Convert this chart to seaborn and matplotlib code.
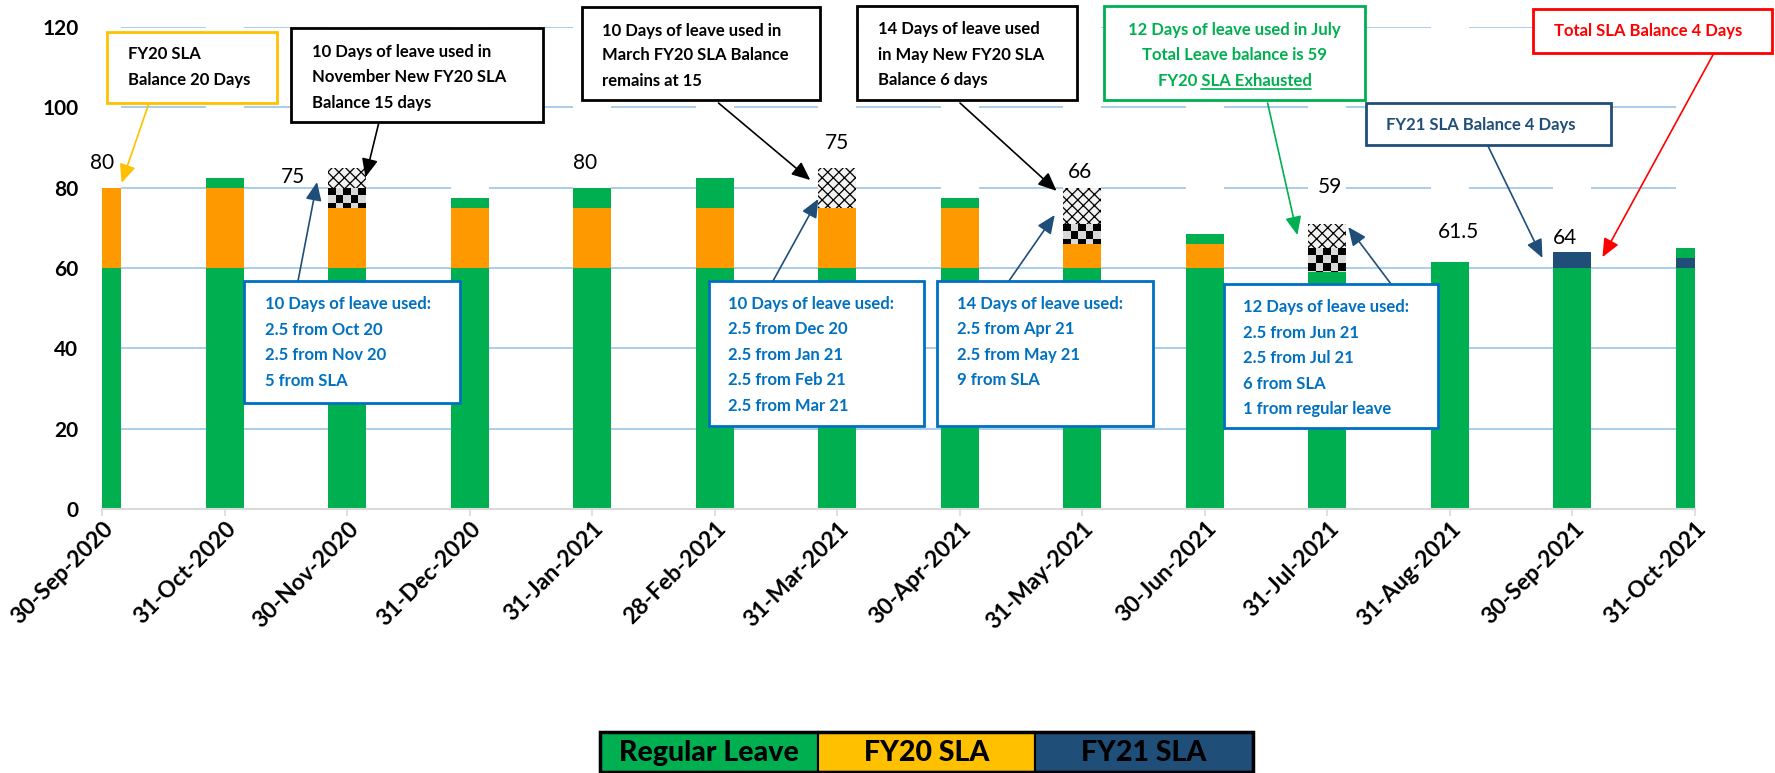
import numpy as np
import pandas as pd
import matplotlib
matplotlib.use("Agg")
import matplotlib.pyplot as plt
import matplotlib.transforms as mtransforms
import seaborn as sns
from matplotlib.patches import Rectangle
from matplotlib.lines import Line2D
from matplotlib.colors import ListedColormap

# ---------------- data ----------------
dates = ["30-Sep-2020", "31-Oct-2020", "30-Nov-2020", "31-Dec-2020", "31-Jan-2021",
         "28-Feb-2021", "31-Mar-2021", "30-Apr-2021", "31-May-2021", "30-Jun-2021",
         "31-Jul-2021", "31-Aug-2021", "30-Sep-2021", "31-Oct-2021"]
regular_base = [60, 60, 60, 60, 60, 60, 60, 60, 60, 60, 59, 61.5, 60, 60]
fy20_sla = [20, 20, 15, 15, 15, 15, 15, 15, 6, 6, 0, 0, 0, 0]
fy21_sla = [0, 0, 0, 0, 0, 0, 0, 0, 0, 0, 0, 0, 4, 2.5]
regular_top = [0, 2.5, 0, 2.5, 5, 7.5, 0, 2.5, 0, 2.5, 0, 0, 0, 2.5]
used_sla = [0, 0, 5, 0, 0, 0, 0, 0, 5, 0, 6, 0, 0, 0]
used_regular = [0, 0, 5, 0, 0, 0, 10, 0, 9, 0, 6, 0, 0, 0]
total_labels = ["80", "", "75", "", "80", "", "75", "", "66", "", "59", "61.5", "64", ""]
y_ticks = [0, 20, 40, 60, 80, 100, 120]
legend_labels = ["Regular Leave", "FY20 SLA", "FY21 SLA"]

# ---------------- style ----------------
W, H = 1775, 773
GREEN = "#00B050"
ORANGE = "#FF9900"
LEG_YELLOW = "#FFC000"
NAVY = "#1F4E79"
BLUE = "#0070C0"
CHECK_BG = "#D9D9D9"
X_BG = "#F2F2F2"
label_dx = [0.0, 0, -0.44, 0, -0.06, 0, 0.0, 0, -0.02, 0, 0.02, 0.07, -0.06, 0]
label_y = [86.2, 0, 82.7, 0, 86.2, 0, 91.1, 0, 83.9, 0, 80.2, 69.0, 67.4, 0]

sns.set_theme(style="white")
plt.rcParams["font.family"] = ["Lato", "DejaVu Sans"]
plt.rcParams["hatch.color"] = "black"
plt.rcParams["hatch.linewidth"] = 0.9


def fx(x):
    return x / W


def fy(y):
    return 1 - y / H


fig = plt.figure(figsize=(W / 100, H / 100), dpi=100)
ax_l, ax_r, ax_t, ax_b = 102, 1695, 27, 509
ax = fig.add_axes([fx(ax_l), fy(ax_b), (ax_r - ax_l) / W, (ax_b - ax_t) / H])

ymax = y_ticks[-1]
totals = (np.array(regular_base) + np.array(fy20_sla) + np.array(fy21_sla)
          + np.array(regular_top) + np.array(used_sla) + np.array(used_regular))
df = pd.DataFrame({
    "date": dates,
    "regular_base": regular_base,
    "fy20": fy20_sla,
    "fy21": fy21_sla,
    "regular_top": regular_top,
    "used_sla": used_sla,
    "used_regular": used_regular,
    "filler": ymax - totals,
})

segments = [
    ("regular_base", GREEN, None),
    ("fy20", ORANGE, None),
    ("fy21", NAVY, None),
    ("regular_top", GREEN, None),
    ("used_sla", CHECK_BG, "checker"),
    ("used_regular", X_BG, "xxx"),
    ("filler", "white", None),
]

bottom = np.zeros(len(dates))
px_per_x = (ax_r - ax_l) / (len(dates) - 1)
px_per_y = (ax_b - ax_t) / ymax
for col, color, pattern in segments:
    kw = dict(linewidth=0)
    if pattern is not None and pattern != "checker":
        kw.update(hatch=pattern, edgecolor="black")
    sns.barplot(data=df, x="date", y=col, order=dates, color=color, saturation=1,
                width=0.31, bottom=bottom.copy(), errorbar=None, ax=ax, **kw)
    if pattern == "checker":
        cont = ax.containers[-1]
        for p in cont.patches:
            h = p.get_height()
            if h <= 0:
                continue
            x0, w = p.get_x(), p.get_width()
            ytop = p.get_y() + h
            ncols = 5
            cell_h = (w * px_per_x / ncols) / px_per_y
            nrows = int(np.ceil(h / cell_h))
            arr = np.add.outer(np.arange(nrows), np.arange(ncols)) % 2
            im = ax.imshow(arr, cmap=ListedColormap(["black", CHECK_BG]),
                           extent=[x0, x0 + w, ytop - nrows * cell_h, ytop],
                           origin="upper", interpolation="nearest", aspect="auto",
                           zorder=1.2)
            im.set_clip_path(p)
    bottom += df[col].values

ax.set_xlim(0, len(dates) - 1)
ax.set_ylim(0, ymax)
ax.set_xlabel("")
ax.set_ylabel("")
ax.set_axisbelow(True)
ax.yaxis.grid(True, color="#A9CDEB", linewidth=1.4)
ax.xaxis.grid(False)
for s in ["left", "top", "right"]:
    ax.spines[s].set_visible(False)
ax.spines["bottom"].set_color("#D9D9D9")
ax.spines["bottom"].set_linewidth(1.5)

ax.set_yticks(y_ticks)
ax.set_yticklabels([str(v) for v in y_ticks], fontsize=15, fontweight="bold", color="black")
ax.tick_params(axis="y", length=0, pad=17)
ax.set_xticks(range(len(dates)))
ax.set_xticklabels(dates, rotation=45, ha="right", va="center", rotation_mode="anchor",
                   fontsize=16.5, fontweight="bold", color="black")
ax.tick_params(axis="x", length=5, width=1.2, color="#D9D9D9", pad=9, bottom=True)
shift = mtransforms.ScaledTranslation(0.08, 0.03, fig.dpi_scale_trans)
for lab in ax.get_xticklabels():
    lab.set_transform(lab.get_transform() + shift)

# value labels
for i, t in enumerate(total_labels):
    if t:
        ax.text(i + label_dx[i], label_y[i], t, ha="center", va="center",
                fontsize=15, color="black", zorder=4)

# annotation boxes
boxes = [
    dict(rect=(107, 32, 277, 103), edge=LEG_YELLOW, color="black", tx=128,
         lines=["FY20 SLA", "Balance 20 Days"], ys=[54, 80]),
    dict(rect=(291, 28, 543, 122), edge="black", color="black", tx=312,
         lines=["10 Days of leave used in", "November New FY20 SLA", "Balance 15 days"],
         ys=[52, 77, 103]),
    dict(rect=(244, 281, 460, 403), edge=BLUE, color=BLUE, tx=265,
         lines=["10 Days of leave used:", "2.5 from Oct 20", "2.5 from Nov 20", "5 from SLA"],
         ys=[304, 330, 355, 381]),
    dict(rect=(582, 7, 820, 100), edge="black", color="black", tx=602,
         lines=["10 Days of leave used in", "March FY20 SLA Balance", "remains at 15"],
         ys=[31, 55, 81]),
    dict(rect=(857, 6, 1077, 100), edge="black", color="black", tx=878,
         lines=["14 Days of leave used", "in May New FY20 SLA", "Balance 6 days"],
         ys=[29, 55, 80]),
    dict(rect=(709, 281, 924, 426), edge=BLUE, color=BLUE, tx=728,
         lines=["10 Days of leave used:", "2.5 from Dec 20", "2.5 from Jan 21",
                "2.5 from Feb 21", "2.5 from Mar 21"],
         ys=[304, 329, 355, 380, 406]),
    dict(rect=(937, 281, 1153, 426), edge=BLUE, color=BLUE, tx=957,
         lines=["14 Days of leave used:", "2.5 from Apr 21", "2.5 from May 21", "9 from SLA"],
         ys=[304, 329, 355, 380]),
    dict(rect=(1104, 6, 1365, 100), edge=GREEN, color=GREEN, tx=1234.5, ha="center",
         lines=["12 Days of leave used in July", "Total Leave balance is 59",
                "FY20 SLA Exhausted"],
         ys=[30, 55, 81]),
    dict(rect=(1224, 284, 1438, 428), edge=BLUE, color=BLUE, tx=1243,
         lines=["12 Days of leave used:", "2.5 from Jun 21", "2.5 from Jul 21",
                "6 from SLA", "1 from regular leave"],
         ys=[307, 333, 358, 384, 409]),
    dict(rect=(1366, 103, 1611, 145), edge=NAVY, color=NAVY, tx=1386,
         lines=["FY21 SLA Balance 4 Days"], ys=[125]),
    dict(rect=(1533, 9, 1772, 53), edge="#FF0000", color="#FF0000", tx=1554,
         lines=["Total SLA Balance 4 Days"], ys=[31]),
]

ANN_FS = 12
text_objs = {}
for bi, b in enumerate(boxes):
    x0, y0, x1, y1 = b["rect"]
    fig.add_artist(Rectangle((fx(x0), fy(y1)), (x1 - x0) / W, (y1 - y0) / H,
                             transform=fig.transFigure, facecolor="white",
                             edgecolor=b["edge"], linewidth=2, zorder=5))
    for li, (line, yy) in enumerate(zip(b["lines"], b["ys"])):
        t = fig.text(fx(b["tx"]), fy(yy), line, ha=b.get("ha", "left"), va="center",
                     color=b["color"], fontsize=ANN_FS, fontweight="bold", zorder=6)
        text_objs[(bi, li)] = t

arrows = [
    ((149, 103), (0.16, 81.2), LEG_YELLOW),
    ((379, 122), (2.15, 82.6), "black"),
    ((298, 281), (1.755, 81.4), NAVY),
    ((718.5, 103), (5.78, 81.9), "black"),
    ((960, 103), (7.79, 79.2), "black"),
    ((773, 281), (5.845, 77.2), NAVY),
    ((1007.5, 283), (7.775, 73.2), NAVY),
    ((1267.6, 103), (9.755, 68.2), GREEN),
    ((1391, 284), (10.17, 70.2), NAVY),
    ((1487.5, 145), (11.755, 62.5), NAVY),
    ((1714, 53), (12.245, 62.7), "#FF0000"),
]
for (sx, sy), (tx, ty), c in arrows:
    ax.annotate("", xy=(tx, ty), xycoords="data", xytext=(fx(sx), fy(sy)),
                textcoords="figure fraction", annotation_clip=False,
                arrowprops=dict(arrowstyle="-|>,head_length=0.8,head_width=0.35",
                                color=c, lw=1.2, shrinkA=0, shrinkB=0,
                                mutation_scale=14), zorder=7)

# legend (table-like strip)
cells = [600, 818, 1035, 1253]
leg_colors = [GREEN, LEG_YELLOW, NAVY]
ly0, ly1 = 732, 772
for i, lab in enumerate(legend_labels):
    fig.add_artist(Rectangle((fx(cells[i]), fy(ly1)), (cells[i + 1] - cells[i]) / W,
                             (ly1 - ly0) / H, transform=fig.transFigure,
                             facecolor=leg_colors[i], edgecolor="black", linewidth=1.5,
                             zorder=5))
    fig.text(fx((cells[i] + cells[i + 1]) / 2), fy(753), lab, ha="center", va="center",
             fontsize=20.5, fontweight="black", color="black", zorder=6)
fig.add_artist(Rectangle((fx(cells[0]), fy(ly1)), (cells[-1] - cells[0]) / W,
                         (ly1 - ly0) / H, transform=fig.transFigure, facecolor="none",
                         edgecolor="black", linewidth=2.5, zorder=7))

# underline "SLA Exhausted"
fig.canvas.draw()
renderer = fig.canvas.get_renderer()
t3 = text_objs[(7, 2)]
bb = t3.get_window_extent(renderer)
tmp = fig.text(0, 0, "SLA Exhausted", fontsize=ANN_FS, fontweight="bold")
wpart = tmp.get_window_extent(renderer).width
tmp.remove()
uy = fy(89)
fig.add_artist(Line2D([(bb.x1 - wpart) / W, bb.x1 / W], [uy, uy],
                      transform=fig.transFigure, color=GREEN, linewidth=1.2, zorder=6))

fig.savefig("out.png", dpi=100)
